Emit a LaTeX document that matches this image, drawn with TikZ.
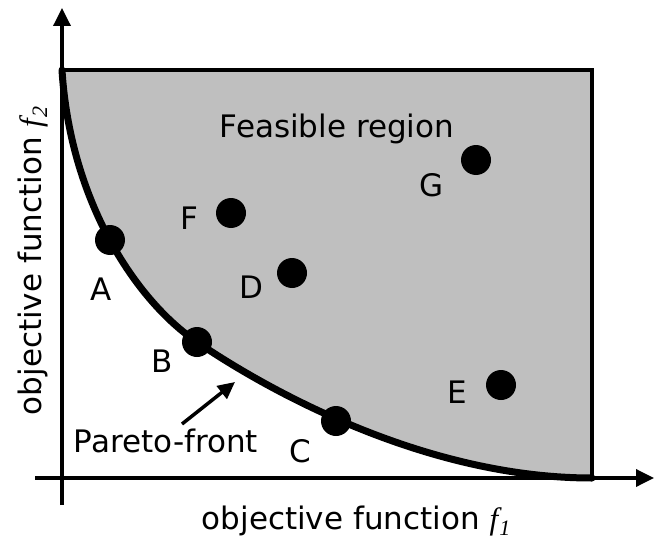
\documentclass[tikz,border=0pt]{standalone}
\usepackage{fontspec}
\setmainfont{DejaVu Sans}
\newfontfamily\lserif{Liberation Serif}
\usetikzlibrary{arrows.meta}
\begin{document}
\begin{tikzpicture}[x=1pt,y=-1pt,
  axis/.style={line width=3.5pt,-{Triangle[length=18pt,width=17pt]}},
  dot/.style={circle,fill=black,inner sep=0pt,minimum size=30pt},
  lbl/.style={font=\fontsize{31}{36}\selectfont,inner sep=0pt},
  feas/.style={fill=black!25},
  front/.style={line width=7pt,line cap=round}]
\useasboundingbox (0,0) rectangle (656,543);
% feasible region
\fill[feas] (62,70) -- (592,70) -- (592,478) .. controls (420,478) and (260,385) .. (197,342)
   .. controls (135,300) and (70,200) .. (62,70) -- cycle;
\draw[line width=3.5pt] (62,70) -- (592,70) -- (592,478);
% axes
\coordinate (xs) at (35,478);
\coordinate (xe) at (654,478);
\coordinate (ys) at (62,505);
\coordinate (ye) at (62,8);
\draw[axis] (xs) -- (xe);
\draw[axis] (ys) -- (ye);
% Pareto front
\draw[front] (62,70) .. controls (70,200) and (135,300) .. (197,342)
   .. controls (260,385) and (420,478) .. (592,478);
% points
\node[dot] (pA) at (110,240) {};
\node[dot] (pB) at (197,342) {};
\node[dot] (pC) at (336,421) {};
\node[dot] (pD) at (292,273) {};
\node[dot] (pE) at (501,385) {};
\node[dot] (pF) at (231,213) {};
\node[dot] (pG) at (476,160) {};
% labels
\node[lbl] (lA) at (101,289) {A};
\node[lbl] (lB) at (162,361) {B};
\node[lbl] (lC) at (300,451) {C};
\node[lbl] (lD) at (251,287) {D};
\node[lbl] (lE) at (457,392) {E};
\node[lbl] (lF) at (189,218) {F};
\node[lbl] (lG) at (432,185) {G};
\node[lbl] (feasible) at (337,129) {Feasible region};
\node[lbl] (pareto) at (166,441) {Pareto-front};
\coordinate (ptip) at (235,382);
\draw[line width=3.5pt,-{Triangle[length=17pt,width=16pt]}] (182,424) -- (ptip);
% axis labels
\node[lbl,anchor=base] (xlab) at (356,529) {objective function {\lserif\itshape f\kern1pt\raisebox{-0.2em}{\fontsize{22}{22}\selectfont 1}}};
\node[lbl,anchor=base,rotate=90] (ylab) at (41,261) {objective function {\lserif\itshape f\kern1pt\raisebox{-0.2em}{\fontsize{22}{22}\selectfont 2}}};
\end{tikzpicture}
\end{document}
